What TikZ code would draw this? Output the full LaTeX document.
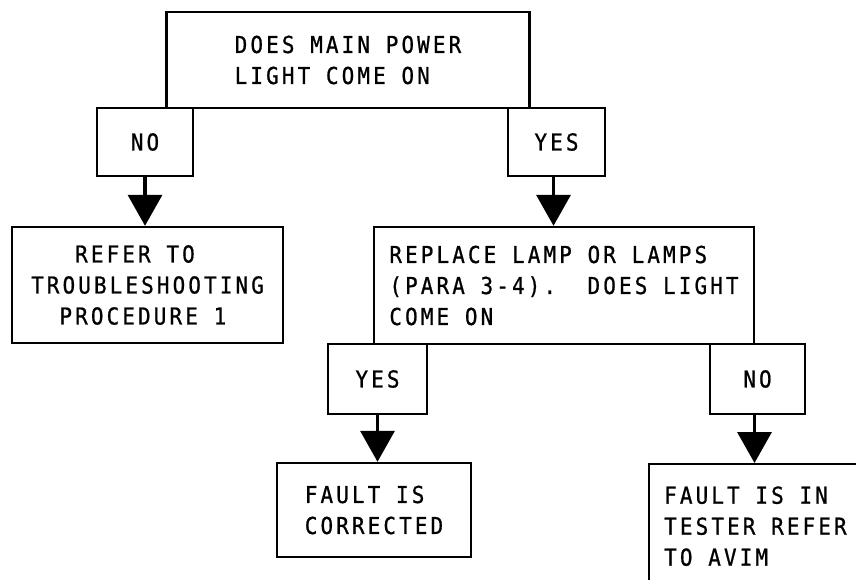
\documentclass[tikz,border=0pt]{standalone}
\usepackage{fontspec}
\newfontfamily\lettering[FakeStretch=0.9,LetterSpace=13.3,FakeBold=0.8]{DejaVu Sans Mono}
\usetikzlibrary{arrows.meta}
\begin{document}
\begin{tikzpicture}[x=1pt,y=-1pt,
  box/.style={draw, line width=2.4pt, inner sep=0pt,
    font=\lettering\fontsize{23.3}{31}\selectfont},
  flow/.style={line width=3.5pt, -{Triangle[width=34pt,length=31pt]}}]
% page frame (also trims the last box that runs off the sheet)
\clip (0,0) rectangle (856,579);

% first question and its answers
\node[box, align=left, minimum width=363pt, minimum height=96pt] (q1) at (348,60)
  {DOES MAIN POWER\\LIGHT COME ON};
\node[box, minimum width=96pt, minimum height=68pt] (no1) at (145,142) {NO};
\node[box, minimum width=97pt, minimum height=68pt] (yes1) at (556.5,142) {YES};

% outcomes of the first question
\node[box, align=left, minimum width=271pt, minimum height=116pt] (refer) at (147.5,285)
  {\phantom{XXX}REFER TO\\TROUBLESHOOTING\\\phantom{XX}PROCEDURE 1};
\node[box, align=left, minimum width=380pt, minimum height=117pt] (q2) at (564,285.5)
  {REPLACE LAMP OR LAMPS\\(PARA 3-4).\ \ DOES LIGHT\\COME ON};

% answers to the second question
\node[box, minimum width=99pt, minimum height=70pt] (yes2) at (377.5,379) {YES};
\node[box, minimum width=95pt, minimum height=70pt] (no2) at (757.5,379) {NO};

% final outcomes
\node[box, align=left, minimum width=194pt, minimum height=94pt] (fixed) at (374,510)
  {FAULT IS\\CORRECTED};
\node[box, align=left, anchor=north west, inner xsep=15pt,
      minimum height=124pt] (tester) at (648,463)
  {FAULT IS IN\\TESTER REFER\\TO AVIM};

% connectors
\draw[flow] (no1.south) -- (no1.south |- refer.north);
\draw[flow] ([xshift=-3pt]yes1.south) -- ([xshift=-3pt]yes1.south |- q2.north);
\draw[flow] (yes2.south) -- (yes2.south |- fixed.north);
\draw[flow] ([xshift=-3pt]no2.south) -- ([xshift=-3pt]no2.south |- tester.north);
\end{tikzpicture}
\end{document}
